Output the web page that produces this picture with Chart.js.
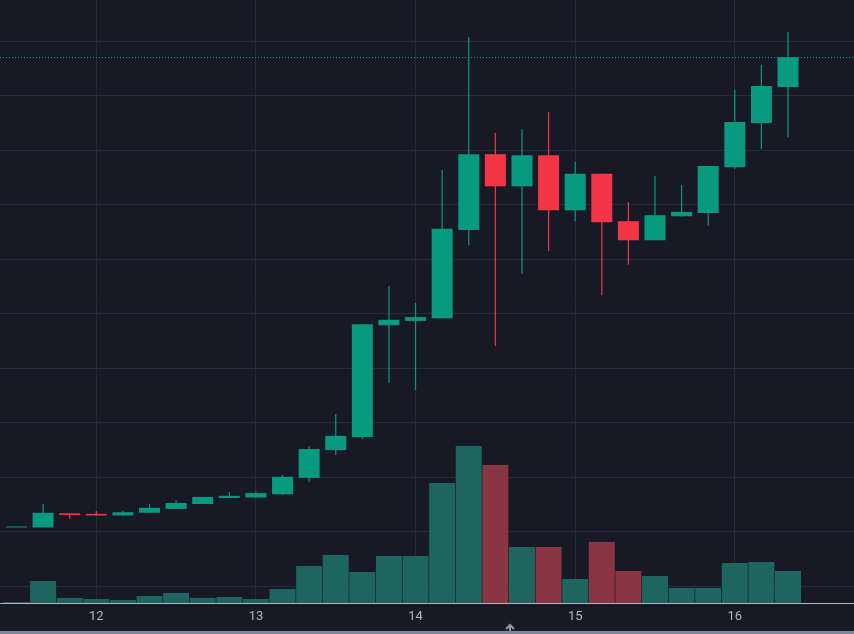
<!DOCTYPE html>
<html>
<head>
<meta charset="utf-8">
<script src="https://cdn.jsdelivr.net/npm/chart.js@4.4.1/dist/chart.umd.min.js"></script>
<style>
  html, body { margin: 0; padding: 0; background: #171a25; }
  #wrap { position: relative; width: 854px; height: 634px; }
  #scroll { position: absolute; left: 0; top: 631px; width: 854px; height: 3px; background: #80869b; }
</style>
</head>
<body>
<div id="wrap">
  <canvas id="chart" width="854" height="631"></canvas>
  <div id="scroll"></div>
</div>
<script>
    // data (4h candles)
    const opens  = [2.08, 2.08, 2.34, 2.33, 2.30, 2.35, 2.42, 2.51, 2.62, 2.63,
                    2.69, 2.99, 3.50, 3.74, 5.79, 5.87, 5.92, 7.54, 8.93, 8.34,
                    8.91, 7.90, 8.57, 7.70, 7.35, 7.79, 7.85, 8.69, 9.50, 10.16];
    const highs  = [2.08, 2.51, 2.34, 2.38, 2.38, 2.51, 2.58, 2.64, 2.73, 2.73,
                    3.04, 3.57, 4.16, 5.81, 6.51, 6.20, 8.64, 11.08, 9.32, 9.39,
                    9.70, 8.79, 8.57, 8.05, 8.53, 8.36, 8.71, 10.11, 10.57, 11.17];
    const lows   = [2.08, 2.08, 2.24, 2.30, 2.30, 2.35, 2.42, 2.51, 2.62, 2.63,
                    2.68, 2.91, 3.41, 3.70, 4.73, 4.60, 5.92, 7.26, 5.41, 6.73,
                    7.15, 7.70, 6.34, 6.90, 7.35, 7.78, 7.61, 8.66, 9.02, 9.24];
    const closes = [2.08, 2.35, 2.31, 2.30, 2.36, 2.44, 2.53, 2.64, 2.66, 2.71,
                    3.01, 3.52, 3.76, 5.81, 5.89, 5.94, 7.56, 8.93, 8.34, 8.91,
                    7.90, 8.57, 7.68, 7.35, 7.81, 7.87, 8.71, 9.52, 10.18, 10.71];
    const volumes = [10, 220, 50, 40, 30, 70, 100, 50, 60, 40,
                     140, 370, 480, 310, 470, 470, 1200, 1570, 1380, 560,
                     560, 240, 610, 320, 270, 150, 150, 400, 410, 320];
    const volumeDown = [0, 0, 0, 0, 0, 0, 0, 0, 0, 0,
                        0, 0, 0, 0, 0, 0, 0, 0, 1, 0,
                        1, 0, 1, 1, 0, 0, 0, 0, 0, 0];
    const dayTicks  = [3, 9, 15, 21, 27];
    const dayLabels = ['12', '13', '14', '15', '16'];
    const priceGrid = [1, 2, 3, 4, 5, 6, 7, 8, 9, 10, 11];

    const UP = '#089981', DOWN = '#f23645';
    const VOL_UP = '#1e655f', VOL_DOWN = '#8a3543';
    const GRID = '#282b37';

    const dirColor = opens.map((o, i) => closes[i] >= o ? UP : DOWN);

    // last price dotted line + small scroll arrow
    const extras = {
      id: 'extras',
      beforeDatasetsDraw(chart) {
        const { ctx, chartArea, scales } = chart;
        const y = Math.round(scales.y.getPixelForValue(closes[closes.length - 1])) + 0.5;
        ctx.save();
        ctx.strokeStyle = UP;
        ctx.lineWidth = 1;
        ctx.setLineDash([1, 2]);
        ctx.beginPath();
        ctx.moveTo(chartArea.left, y);
        ctx.lineTo(chartArea.right, y);
        ctx.stroke();
        ctx.restore();
      },
      afterDraw(chart) {
        const ctx = chart.ctx;
        ctx.save();
        ctx.strokeStyle = '#9598a1';
        ctx.lineWidth = 2;
        ctx.beginPath();
        ctx.moveTo(510, 625); ctx.lineTo(510, 631);
        ctx.moveTo(506, 629); ctx.lineTo(510, 625); ctx.lineTo(514, 629);
        ctx.stroke();
        ctx.restore();
      }
    };

    const config = {
      type: 'bar',
      data: {
        datasets: [{
          label: 'Volume',
          data: volumes.map((v, i) => ({ x: i, y: v })),
          yAxisID: 'yv',
          backgroundColor: volumeDown.map(d => d ? VOL_DOWN : VOL_UP),
          barThickness: 26,
          inflateAmount: 0,
          grouped: false,
          order: 3
        }, {
          label: 'Wick',
          data: lows.map((l, i) => ({ x: i, y: [l, highs[i]] })),
          yAxisID: 'y',
          backgroundColor: dirColor,
          barThickness: 1.2,
          inflateAmount: 0,
          grouped: false,
          order: 2
        }, {
          label: 'Body',
          data: opens.map((o, i) => ({ x: i, y: [o, closes[i]] })),
          yAxisID: 'y',
          backgroundColor: dirColor,
          barThickness: 21,
          minBarLength: 1,
          inflateAmount: 0,
          grouped: false,
          order: 1
        }]
      },
      options: {
        responsive: false,
        animation: false,
        devicePixelRatio: 1,
        layout: { padding: 0 },
        plugins: {
          legend: { display: false },
          tooltip: { enabled: false }
        },
        scales: {
          x: {
            type: 'linear',
            min: -0.62,
            max: 31.48,
            offset: false,
            grid: { color: GRID, drawTicks: false, offset: false },
            border: { color: '#b2b5be', width: 1 },
            afterBuildTicks: (s) => { s.ticks = dayTicks.map(v => ({ value: v })); },
            afterFit: (s) => { s.height = 28; },
            ticks: {
              autoSkip: false,
              maxRotation: 0,
              padding: 6,
              color: '#b2b5be',
              font: { family: 'Roboto', size: 13 },
              callback: (v, i) => dayLabels[i]
            }
          },
          y: {
            position: 'right',
            min: 0.694,
            max: 11.758,
            grid: { color: GRID, drawTicks: false },
            border: { display: false },
            ticks: { display: false },
            afterBuildTicks: (s) => { s.ticks = priceGrid.map(v => ({ value: v })); },
            afterFit: (s) => { s.width = 0; }
          },
          yv: {
            display: false,
            min: 0,
            max: 6030
          }
        }
      },
      plugins: [extras]
    };

    const chart = new Chart(document.getElementById('chart'), config);
</script>
</body>
</html>
